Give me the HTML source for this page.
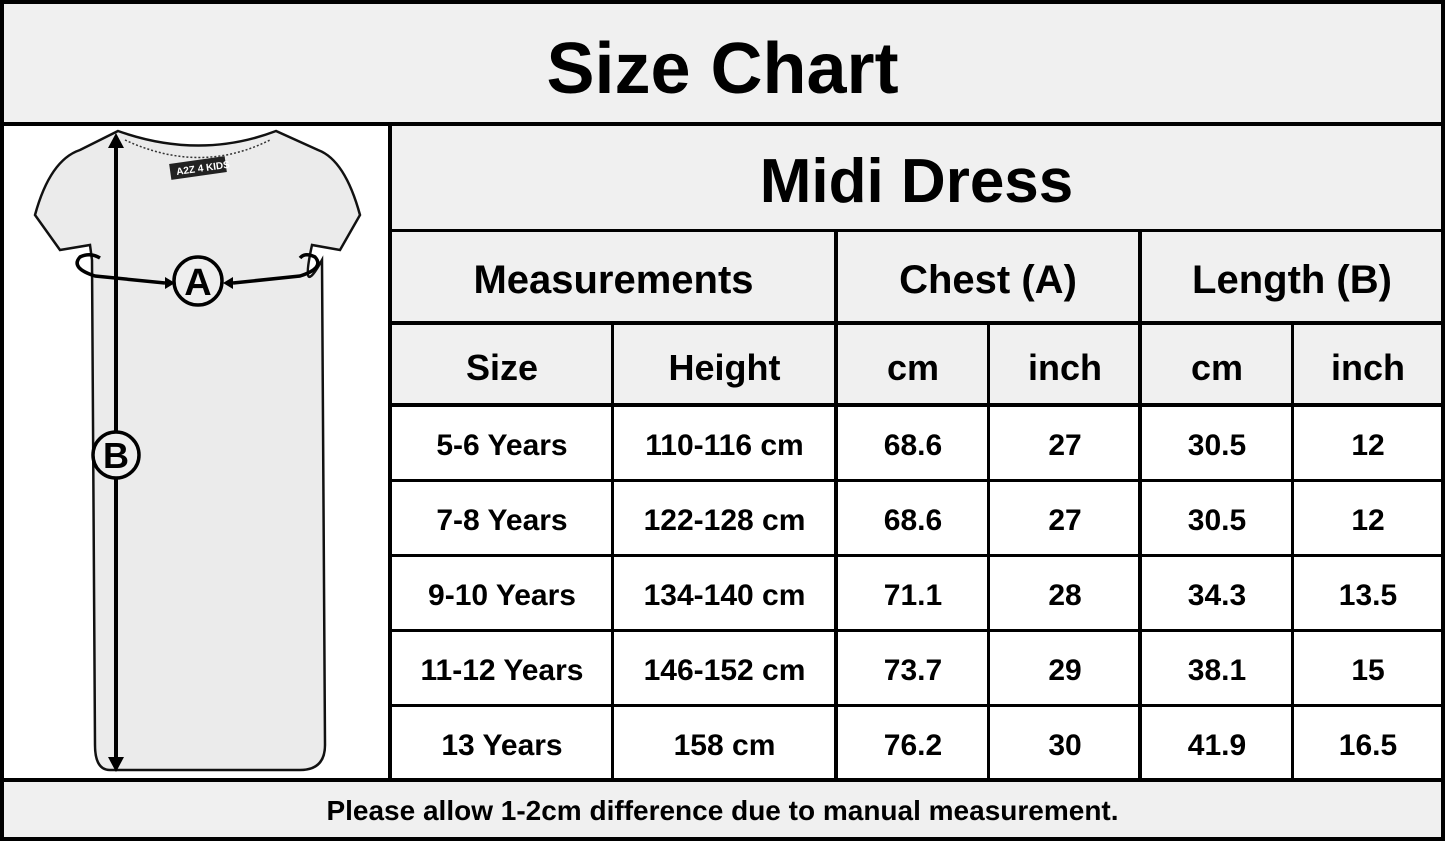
<!DOCTYPE html>
<html><head><style>
body{margin:0;width:1445px;height:841px;position:relative;background:#fff;font-family:"Liberation Sans",sans-serif;font-weight:bold;overflow:hidden}
.b{position:absolute;background:#000}
.g{position:absolute;background:#f0f0f0}
.t{position:absolute;display:flex;align-items:center;justify-content:center;color:#000;white-space:nowrap;box-sizing:border-box;padding-top:6px}
</style></head><body>
<div class="g" style="left:0;top:0;width:1445px;height:124px"></div>
<div class="g" style="left:390px;top:124px;width:1055px;height:281px"></div>
<div class="g" style="left:0;top:779px;width:1445px;height:62px"></div>
<svg style="position:absolute;left:0;top:0" width="1445" height="841">
<path d="M118,131 Q200,160 276,131 L318,150 Q345,160 360,215 L340,250 L312,245 Q300,300 322,260 L325,745 Q325,770 300,770 L110,770 Q95,770 95,745 L92,260 L90,245 L60,250 L35,215 Q50,160 80,150 Z" fill="#ebebeb" stroke="#111" stroke-width="2.5"/>
<path d="M125,140 Q200,175 270,140" fill="none" stroke="#333" stroke-width="1.5" stroke-dasharray="2,2"/>
<rect x="170" y="160" width="56" height="16" fill="#222" transform="rotate(-8 198 168)"/>
<text x="176" y="172" font-size="10" fill="#fff" font-family="Liberation Sans" transform="rotate(-8 198 168)">A2Z 4 KIDS</text>
<line x1="116" y1="145" x2="116" y2="760" stroke="#000" stroke-width="4"/>
<polygon points="108,148 124,148 116,133" fill="#000"/>
<polygon points="108,757 124,757 116,772" fill="#000"/>
<path d="M165,283 L95,276 Q70,268 80,257 Q90,252 100,258" fill="none" stroke="#000" stroke-width="3.5"/>
<polygon points="165,277 165,289 175,283" fill="#000"/>
<path d="M233,283 L300,276 Q325,268 315,257 Q305,252 300,258" fill="none" stroke="#000" stroke-width="3.5"/>
<polygon points="233,277 233,289 223,283" fill="#000"/>
<circle cx="198" cy="281" r="24" fill="#eee" stroke="#000" stroke-width="3.5"/>
<text x="198" y="295" font-size="38" text-anchor="middle" font-family="Liberation Sans" font-weight="bold">A</text>
<circle cx="116" cy="455" r="23" fill="#eee" stroke="#000" stroke-width="3.5"/>
<text x="116" y="468" font-size="36" text-anchor="middle" font-family="Liberation Sans" font-weight="bold">B</text>
</svg>
<div class="b" style="left:0;top:0;width:1445px;height:4px"></div>
<div class="b" style="left:0;top:837px;width:1445px;height:4px"></div>
<div class="b" style="left:0;top:0;width:4px;height:841px"></div>
<div class="b" style="left:1441px;top:0;width:4px;height:841px"></div>
<div class="b" style="left:0;top:122px;width:1445px;height:4px"></div>
<div class="b" style="left:0;top:778px;width:1445px;height:4px"></div>
<div class="b" style="left:388px;top:122px;width:4px;height:658px"></div>
<div class="b" style="left:390px;top:229px;width:1055px;height:3px"></div>
<div class="b" style="left:390px;top:321px;width:1055px;height:4px"></div>
<div class="b" style="left:390px;top:403px;width:1055px;height:4px"></div>
<div class="b" style="left:390px;top:479px;width:1055px;height:3px"></div>
<div class="b" style="left:390px;top:554px;width:1055px;height:3px"></div>
<div class="b" style="left:390px;top:629px;width:1055px;height:3px"></div>
<div class="b" style="left:390px;top:704px;width:1055px;height:3px"></div>
<div class="b" style="left:834px;top:229px;width:4px;height:551px"></div>
<div class="b" style="left:1138px;top:229px;width:4px;height:551px"></div>
<div class="b" style="left:611px;top:321px;width:3px;height:459px"></div>
<div class="b" style="left:987px;top:321px;width:3px;height:459px"></div>
<div class="b" style="left:1291px;top:321px;width:3px;height:459px"></div>
<div class="t" style="left:0;top:4px;width:1445px;height:120px;font-size:72px;padding-top:10px">Size Chart</div>
<div class="t" style="left:392px;top:126px;width:1049px;height:104px;font-size:62px">Midi Dress</div>
<div class="t" style="left:392px;top:232px;width:443px;height:90px;font-size:40px">Measurements</div>
<div class="t" style="left:838px;top:232px;width:300px;height:90px;font-size:40px">Chest (A)</div>
<div class="t" style="left:1142px;top:232px;width:300px;height:90px;font-size:40px">Length (B)</div>
<div class="t" style="left:392px;top:325px;width:220px;height:80px;font-size:36px">Size</div>
<div class="t" style="left:614px;top:325px;width:221px;height:80px;font-size:36px">Height</div>
<div class="t" style="left:838px;top:325px;width:150px;height:80px;font-size:36px">cm</div>
<div class="t" style="left:990px;top:325px;width:150px;height:80px;font-size:36px">inch</div>
<div class="t" style="left:1142px;top:325px;width:150px;height:80px;font-size:36px">cm</div>
<div class="t" style="left:1294px;top:325px;width:148px;height:80px;font-size:36px">inch</div>
<div id="rows"></div>
<div class="t" style="left:0;top:782px;width:1445px;height:56px;font-size:28px;padding-top:2px"><span style="display:inline-block">Please allow 1-2cm difference due to manual measurement.</span></div>
<script>
var d=[["5-6 Years","110-116 cm","68.6","27","30.5","12"],["7-8 Years","122-128 cm","68.6","27","30.5","12"],["9-10 Years","134-140 cm","71.1","28","34.3","13.5"],["11-12 Years","146-152 cm","73.7","29","38.1","15"],["13 Years","158 cm","76.2","30","41.9","16.5"]];
var xs=[[392,220],[614,221],[838,150],[990,150],[1142,150],[1294,148]];var ys=[407,482,557,632,707];var h="";
d.forEach(function(r,i){r.forEach(function(c,j){h+='<div class="t" style="left:'+xs[j][0]+'px;top:'+ys[i]+'px;width:'+xs[j][1]+'px;height:72px;font-size:30px">'+c+'</div>';});});
document.getElementById("rows").innerHTML=h;
</script>
</body></html>
